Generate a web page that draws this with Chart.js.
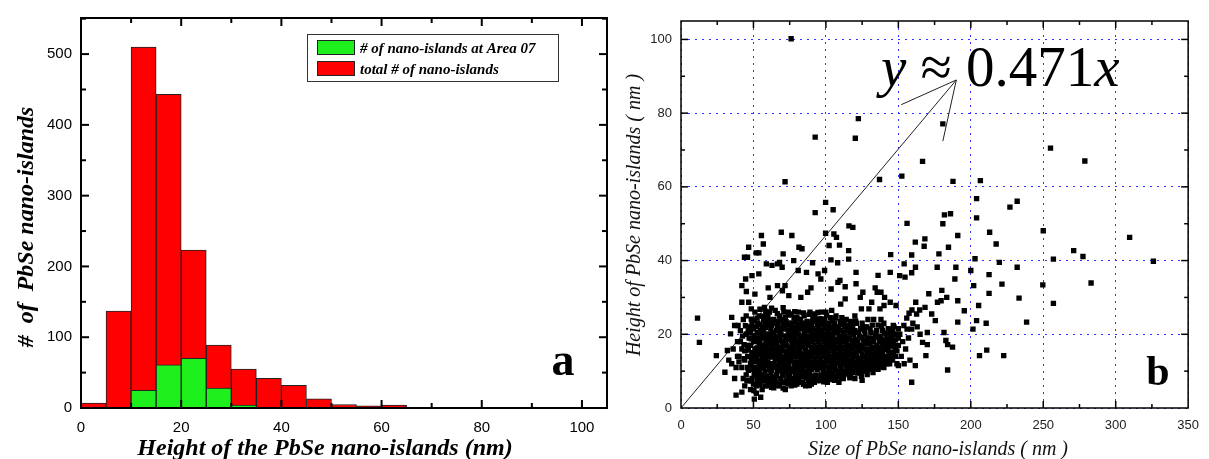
<!DOCTYPE html>
<html>
<head>
<meta charset="utf-8">
<script src="https://cdn.jsdelivr.net/npm/chart.js@4.4.1/dist/chart.umd.min.js"></script>
<style>
  html, body { margin: 0; padding: 0; background: #fff; }
  #wrap { position: relative; width: 1209px; height: 459px; overflow: hidden; }
  #histChart { position: absolute; left: 0; top: 0; }
  #scatterChart { position: absolute; left: 620px; top: 0; }
</style>
</head>
<body>
<div id="wrap">
  <canvas id="histChart" width="620" height="459"></canvas>
  <canvas id="scatterChart" width="589" height="459"></canvas>
</div>
<script>
// ---- panel a: histogram of island heights (bins of 5 nm) ----
const binCenters = [2.5, 7.5, 12.5, 17.5, 22.5, 27.5, 32.5, 37.5, 42.5, 47.5,
                    52.5, 57.5, 62.5, 67.5, 72.5, 77.5, 82.5, 87.5, 92.5, 97.5];
const totalCounts = [7, 137, 510, 443, 223, 89, 55, 42, 32, 13,
                     5, 3, 4, 1, 1, 1, 1, 1, 1, 1];
const area07Counts = [0, 1, 25, 61, 70, 28, 4, 1, 1, 0,
                      0, 0, 0, 0, 0, 0, 0, 0, 0, 0];
const histXTicks = [0, 20, 40, 60, 80, 100];
const histYTicks = [0, 100, 200, 300, 400, 500];

// ---- panel b: size vs height of each island [size nm, height nm] ----
const islands = [
  // sparse points above the main cloud
  [76,100.2],[122.4,78.5],[92.6,73.5],[120.3,73.2],[180.7,77.1],[71.8,61.4],[137,62],[152.4,62.9],
  [166.7,66.9],[187.7,61.5],[206.6,61.7],[255,70.5],[278.7,67],[99.8,55.8],[92.6,53],[105,53.8],
  [115.9,49.4],[118.6,49],[156,50.1],[180.7,50],[181.8,52.4],[186,52.7],[191,46.8],[204,51.6],
  [204,56.8],[227,54.5],[232,56.1],[213,47.7],[217.5,44.5],[250,48.1],[309.6,46.3],[326,39.8],
  [271,42.7],[277.4,41.1],[257,40.4],[232,38.2],[249.7,33.4],[233.3,29.8],[283,33.9],[257,28.4],
  [238.5,23.3],[222.7,14.2],[211,15.7],[206,14.2],[201.5,21.4],[210.6,23],[212.6,36.2],[219.7,39.5],
  [221.5,33.6],[212.6,31.1],[202.9,40.5],[202,33.2],[200,37.3],[205.4,27.8],[204,23.7],[184,10.3],
  [184,17.2],[181.5,20.5],[187.4,16.5],[182.8,18.3],[191,23.3],[195.5,26.4],[191,29.1],[189,35],
  [189.7,38.2],[184.6,43.6],[178,41.8],[176.8,38.2],[180,31.9],[183.4,30],[179.5,29.1],[177,28.7],
  [168.3,45.9],[167.8,43.9],[161.7,45],[159.2,41.5],[154,39.1],[154.6,35.5],[159.2,36.7],[161.8,38.2],
  [144.7,41.6],[144.4,36.8],[136,36],[150.9,35.9],[150,11.5],[159.2,7],[161.7,11.5],[169,14.2],
  [170,17.2],[166.7,17.8],[170,20.5],[175.5,23.7],[173,25.5],[171,31],[168.4,27.3],[162,28.7],
  [159.4,26.6],[157.4,25.7],[162.6,25.5],[164.7,26.6],[155.8,24.4],[153.8,22.4],[156,21.4],[159.2,21.4],
  [152,14],[155,16],[157,19],[153,18],[160,23],[163,22],[165,20],[151,20],[154,12],[158,13],
  // left tail
  [11.4,24.4],[12.7,17.8],[24.4,14.2],[30.3,9.7],[32,15.6],[35,24.6],[34.2,20.1],[37,22.4],
  [39.4,22.4],[38,3.5],[42,4.3],[50.6,2.4],[55,2.9],[50.3,4.7],[33,13],[36,16],[38,11],[39,18],
  [37,8],[35,12],[39,14],
  // upper fringe of the cloud
  [46.7,43.6],[45.9,40.9],[43.8,40.9],[55.5,46.8],[56.8,44.5],[53.7,42.1],[51.9,42.1],[69.2,47.7],
  [76.5,46.8],[44.6,35],[49,35.9],[53.7,36.4],[42,33.2],[45.1,31.6],[42,28.7],[46.7,28.7],
  [48.5,26.9],[51,30.9],[58.9,39.1],[62.8,38.7],[66.6,39.1],[68,39.5],[70.5,41.8],[69.8,38.2],
  [77.8,40],[81.4,43.6],[83.5,43.2],[80.9,37.3],[86.6,36.8],[90.8,39.4],[94.6,36.4],[96.5,35],
  [99.1,37.3],[99.8,47.4],[102.2,44.1],[103.5,40.2],[105.5,47.2],[107.3,46.3],[109.4,44.2],[108.1,39.4],
  [103.6,32.3],[108.3,34.1],[115.7,40.4],[115.7,42.7],[120.8,36.8],[120.8,33.7],[109.7,34.6],[113.3,32.9],
  [89.7,32.6],[87.4,31.4],[82.7,30],[74.4,30.5],[71.8,33.2],[70,31.8],[66.6,33.2],[61.4,30],
  [57.6,27.3],[60.2,32.6],[125.5,31.4],[123.7,30],[134,32.6],[135.4,31.4],[138,31.4],[140.5,30],
  [144.4,28.7],[148.4,27.8],[131.6,28.7],[129.7,26.9],[137.3,26.9],[140.1,27.8],[124.5,26.9],[113.3,29.6],
  [110.2,28.2],
  // main cloud
  [40,14],[41,18],[42,11],[41,21],[43,8],[42,16],[43,24],[40,12.5],
  [44,6],[45,9],[44,13],[46,17],[45,20],[47,22],[46,11],[44,15.5],[47,7.5],[45,25],[46,14],[47,19],
  [48,5],[49,8],[50,10.5],[48,12],[49,14.5],[51,16],[50,18],[48,20.5],[49,23],[51,26],[50,6.5],
  [51,12.5],[48,17],[50,21.5],[49,11],[51,9],[50,15],
  [52,4],[53,7],[54,9.5],[52,11],[55,13],[53,15],[54,17],[52,19],[55,21],[53,23],[54,25],[55,8],
  [52,14],[53,18],[54,12],[55,16],[52,22],[53,10],[55,19],[54,20.5],[52,6],
  [56,5],[57,7.5],[58,10],[59,12],[56,13.5],[57,15],[58,16.5],[59,18],[56,19.5],[57,21],[58,23],
  [59,25.5],[56,9],[57,11],[58,14],[59,20],[56,17],[57,24],[58,6],[59,8.5],[56,22],[57,13],[58,19],[59,15.5],
  [60,6],[61,8],[62,9.5],[63,11],[60,12.5],[61,14],[62,15.5],[63,17],[60,18.5],[61,20],[62,21.5],
  [63,23],[60,25],[61,10.5],[62,12],[63,14.5],[60,16],[61,17.5],[62,19],[63,20.5],[60,22.5],[61,26],
  [62,7],[63,8.5],[61,23.5],[62,16.5],
  [64,5.5],[65,7],[66,9],[67,10.5],[64,12],[65,13.5],[66,15],[67,16.5],[64,18],[65,19.5],[66,21],
  [67,22.5],[64,24],[65,26.5],[66,11.5],[67,13],[64,14.5],[65,16],[66,17.5],[67,19],[64,20.5],
  [65,8.5],[66,23.5],[67,6.5],
  [68,6],[69,8],[70,9.5],[71,11],[68,12.5],[69,14],[70,15.5],[71,17],[68,18.5],[69,20],[70,21.5],
  [71,23],[68,25],[69,10.5],[70,12],[71,13.5],[68,15],[69,16.5],[70,18],[71,19.5],[68,21],[69,24],
  [70,7],[71,26],
  [72,5],[73,7.5],[74,9],[75,10.5],[72,12],[73,13.5],[74,15],[75,16.5],[72,18],[73,19.5],[74,21],
  [75,22.5],[72,24.5],[73,11],[74,12.5],[75,14],[72,15.5],[73,17],[74,18.5],[75,20],[72,21.5],
  [73,23],[74,6.5],[75,8.5],[74,26],
  [76,6],[77,8],[78,10],[79,11.5],[76,13],[77,14.5],[78,16],[79,17.5],[76,19],[77,20.5],[78,22],
  [79,23.5],[76,25.5],[77,10.5],[78,12.5],[79,14],[76,15.5],[77,17],[78,18.5],[79,20],[76,21.5],
  [77,7],[78,24.5],[79,9],
  [80,6.5],[81,8],[82,9.5],[83,11],[80,12.5],[81,14],[82,15.5],[83,17],[80,18.5],[81,20],[82,21.5],
  [83,23],[80,24.5],[81,10.5],[82,12],[83,13.5],[80,15],[81,16.5],[82,18],[83,19.5],[80,21],[81,26],
  [82,7],[83,8.5],
  [84,7],[85,8.5],[86,10],[87,11.5],[84,13],[85,14.5],[86,16],[87,17.5],[84,19],[85,20.5],[86,22],
  [87,23.5],[84,11],[85,12],[86,13.5],[87,15],[84,16.5],[85,18],[86,19.5],[87,21],[84,22.5],[85,25],
  [86,6],[87,9],
  [88,7.5],[89,9],[90,10.5],[91,12],[88,13.5],[89,15],[90,16.5],[91,18],[88,19.5],[89,21],[90,22.5],
  [91,24],[88,11],[89,12.5],[90,14],[91,15.5],[88,17],[89,18.5],[90,20],[91,21.5],[88,23],[89,26],
  [90,6.5],[91,8.5],
  [92,7],[93,9],[94,10.5],[95,12],[92,13.5],[93,15],[94,16.5],[95,18],[92,19.5],[93,21],[94,22.5],
  [95,24],[92,11],[93,12.5],[94,14],[95,15.5],[92,17],[93,18.5],[94,20],[95,21.5],[92,25.5],[93,8],[94,23.5],
  [96,7.5],[97,9],[98,10.5],[99,12],[96,13.5],[97,15],[98,16.5],[99,18],[96,19.5],[97,21],[98,22.5],
  [99,24],[96,11],[97,12.5],[98,14],[99,15.5],[96,17],[97,18.5],[98,20],[99,21.5],[96,23],[97,26],
  [98,8],[99,9.5],
  [100,8],[101,9.5],[102,11],[103,12.5],[100,14],[101,15.5],[102,17],[103,18.5],[100,20],[101,21.5],
  [102,23],[103,24.5],[100,11.5],[101,13],[102,14.5],[103,16],[100,17.5],[101,19],[102,20.5],[103,22],
  [100,26],[101,7],[102,8.5],
  [104,8],[105,9.5],[106,11],[107,12.5],[104,14],[105,15.5],[106,17],[107,18.5],[104,20],[105,21.5],
  [106,23],[107,25],[104,11.5],[105,13],[106,14.5],[107,16],[104,17.5],[105,19],[106,20.5],[107,22],
  [104,26.5],[106,7.5],
  [108,8.5],[109,10],[110,11.5],[111,13],[108,14.5],[109,16],[110,17.5],[111,19],[108,20.5],[109,22],
  [110,23.5],[111,9],[108,12],[109,13.5],[110,15],[111,16.5],[108,18],[109,19.5],[110,21],[111,24.5],[109,7],
  [112,8],[113,10],[114,11.5],[115,13],[112,14.5],[113,16],[114,17.5],[115,19],[112,20.5],[113,22],
  [114,24],[115,9.5],[112,12],[113,13.5],[114,15],[115,16.5],[112,18],[113,19.5],[114,21],[115,22.5],
  [116,9],[117,11],[118,12.5],[119,14],[116,15.5],[117,17],[118,18.5],[119,20],[116,21.5],[117,23.5],
  [118,10],[119,11.5],[116,13],[117,14.5],[118,16],[119,17.5],[116,19],[117,8.5],[118,21],
  [120,8],[121,10.5],[122,12],[123,13.5],[120,15],[121,16.5],[122,18],[123,19.5],[120,21],[121,23],
  [122,9.5],[123,11],[120,12.5],[121,14],[122,15.5],[123,17],[120,25],
  [124,9.5],[125,11],[126,12.5],[127,14],[124,15.5],[125,17],[126,18.5],[127,20],[124,21.5],[125,23],
  [126,10],[127,11.5],[124,13],[125,14.5],[126,16],[127,22],[125,7.5],
  [128,10],[129,11.5],[130,13],[131,14.5],[128,16],[129,17.5],[130,19],[131,20.5],[128,22],[129,10.5],
  [130,12],[131,16],[128,13.5],[130,15.5],[131,12],[129,24],
  [132,10.5],[133,12],[134,13.5],[135,15],[132,16.5],[133,18],[134,19.5],[135,21],[132,22.5],[133,11],
  [134,14],[135,17],[132,13],[134,16],[135,12],[133,24],
  [136,10.5],[137,12],[138,13.5],[139,15],[136,16.5],[137,18],[138,19.5],[139,21],[136,22.5],[137,13],
  [138,16],[139,17.5],[136,14],[139,11.5],[138,24],
  [140,11],[141,12.5],[142,14],[143,15.5],[140,17],[141,18.5],[142,20],[143,21.5],[140,14],[141,16],
  [142,17.5],[143,19],[140,23],[142,12],
  [144,12],[145,13.5],[146,15],[147,16.5],[144,18],[145,19.5],[146,21],[147,22],[144,15],[145,17],
  [146,18.5],[147,20],[146,13],
  [148,14],[149,15.5],[150,17],[148,18.5],[149,20],[150,21.5],[148,16.5],[150,19],[149,12],
  // main cloud, in-between points
  [42.5,19.5],[43.5,13.4],[44.5,22.3],[45.5,7.4],[43.5,17.2],
  [46.5,10.2],[46.5,15.7],[46.5,21.3],[48.5,7.3],[48.5,13.2],[48.5,18.8],[48.5,24.1],
  [50.5,9.1],[50.5,13.9],[50.5,19.6],[50.5,23.8],[52.5,8.2],[52.5,12.7],[52.5,16.3],[52.5,20.4],[52.5,24.4],
  [54.5,6.3],[54.5,10.8],[54.5,14.6],[54.5,18.2],[54.5,22.6],[54.5,26.8],
  [56.5,7.4],[56.5,11.8],[56.5,15.9],[56.5,20.7],[56.5,24.9],
  [58.5,8.7],[58.5,12.9],[58.5,17.4],[58.5,21.8],[58.5,26.2],
  [60.5,7.2],[60.5,11.6],[60.5,15.2],[60.5,19.7],[60.5,23.9],
  [62.5,5.6],[62.5,10.2],[62.5,13.8],[62.5,18.1],[62.5,22.4],[62.5,27.1],
  [64.5,8.3],[64.5,11.1],[64.5,15.6],[64.5,19.3],[64.5,23.1],
  [66.5,6.1],[66.5,10.1],[66.5,13.9],[66.5,18.2],[66.5,22.1],[66.5,25.6],
  [68.5,7.9],[68.5,11.8],[68.5,16.2],[68.5,19.9],[68.5,23.7],
  [70.5,5.4],[70.5,8.9],[70.5,13.2],[70.5,17.6],[70.5,22.8],[70.5,27.2],
  [72.5,6.8],[72.5,10.1],[72.5,14.3],[72.5,19.1],[72.5,23.4],
  [74.5,8.1],[74.5,11.8],[74.5,16.4],[74.5,20.1],[74.5,25.2],
  [76.5,7.1],[76.5,9.9],[76.5,14.1],[76.5,18.2],[76.5,23.1],
  [78.5,6.2],[78.5,11.2],[78.5,15.3],[78.5,19.3],[78.5,21.6],[78.5,26.1],
  [80.5,7.6],[80.5,11.4],[80.5,13.9],[80.5,17.8],[80.5,22.6],
  [82.5,8.6],[82.5,10.9],[82.5,14.8],[82.5,19.1],[82.5,24.1],
  [84.5,6.4],[84.5,9.9],[84.5,14.1],[84.5,17.9],[84.5,21.6],[84.5,25.8],
  [86.5,8.1],[86.5,12.8],[86.5,15.2],[86.5,18.9],[86.5,23.1],
  [88.5,6.1],[88.5,10.1],[88.5,14.3],[88.5,18.1],[88.5,22.2],[88.5,25.4],
  [90.5,7.6],[90.5,11.3],[90.5,15.3],[90.5,19.2],[90.5,23.4],
  [92.5,8.6],[92.5,12.2],[92.5,16.1],[92.5,20.6],[92.5,24.6],
  [94.5,7.4],[94.5,11.6],[94.5,15.2],[94.5,18.9],[94.5,21.1],[94.5,25.9],
  [96.5,8.9],[96.5,12.4],[96.5,16.2],[96.5,20.3],[96.5,24.2],
  [98.5,7.1],[98.5,11.1],[98.5,14.9],[98.5,18.9],[98.5,23.1],
  [100.5,9.2],[100.5,12.7],[100.5,16.2],[100.5,19.2],[100.5,22.4],[100.5,25.1],
  [102.5,7.7],[102.5,10.2],[102.5,13.6],[102.5,18.1],[102.5,21.8],
  [104.5,9.3],[104.5,12.3],[104.5,16.2],[104.5,19.4],[104.5,23.6],
  [106.5,8.2],[106.5,10.3],[106.5,13.9],[106.5,18.3],[106.5,21.9],[106.5,24.4],
  [108.5,9.2],[108.5,13.1],[108.5,16.6],[108.5,21.4],
  [110.5,8.1],[110.5,10.6],[110.5,14.3],[110.5,18.4],[110.5,22.7],
  [112.5,9.3],[112.5,12.9],[112.5,16.1],[112.5,19.6],[112.5,23.2],
  [114.5,10.6],[114.5,14.1],[114.5,18.1],[114.5,21.7],
  [116.5,8.2],[116.5,12.1],[116.5,16.6],[116.5,20.4],
  [118.5,9.6],[118.5,13.6],[118.5,17.4],[118.5,22.3],
  [120.5,11.2],[120.5,14.2],[120.5,18.6],[120.5,23.6],
  [122.5,10.6],[122.5,13.1],[122.5,16.8],[122.5,20.6],
  [124.5,8.6],[124.5,12.1],[124.5,16.6],[124.5,19.1],
  [126.5,11.1],[126.5,13.9],[126.5,17.6],[126.5,21.1],
  [128.5,9.1],[128.5,12.6],[128.5,15.1],[128.5,18.9],
  [130.5,11.3],[130.5,14.1],[130.5,17.6],[130.5,21.5],
  [132.5,9.6],[132.5,14.6],[132.5,18.9],[134.5,11.2],[134.5,15.8],[134.5,20.2],
  [136.5,12.3],[136.5,15.3],[136.5,19.2],[138.5,11.1],[138.5,14.6],[138.5,18.4],[138.5,22.2],
  [140.5,12.6],[140.5,15.9],[140.5,20.3],[142.5,13.2],[142.5,16.6],[142.5,19.1],
  [144.5,13.6],[144.5,16.9],[144.5,20.6],[146.5,14.6],[146.5,17.2],[146.5,22.4]
];
// fitted line y = 0.471x, drawn up to the arrow tip, and the two arrow strokes
const fitLine = [[0, 0], [190, 89]];
const arrowLeft = [[152, 82.3], [190, 89]];
const arrowDown = [[180.7, 72.4], [190, 89]];
const scatterXTicks = [0, 50, 100, 150, 200, 250, 300, 350];
const scatterYTicks = [0, 20, 40, 60, 80, 100];

const toXY = arr => arr.map(p => ({ x: p[0], y: p[1] }));

function tickLine(ctx, x1, y1, x2, y2) {
    ctx.beginPath();
    ctx.moveTo(x1, y1);
    ctx.lineTo(x2, y2);
    ctx.stroke();
}

// frame, inward ticks, legend and labels for panel a
const histDecor = {
    id: 'histDecor',
    afterDraw(chart) {
        const { ctx, chartArea: a, scales: { x, y } } = chart;
        ctx.save();
        ctx.strokeStyle = '#000';
        ctx.lineWidth = 2;
        for (let v = 10; v < 105; v += 10) {
            const px = x.getPixelForValue(v);
            const len = v % 20 === 0 ? 8 : 5;
            tickLine(ctx, px, a.bottom, px, a.bottom - len);
            tickLine(ctx, px, a.top, px, a.top + len);
        }
        for (let v = 50; v < 551; v += 50) {
            const py = y.getPixelForValue(v);
            const len = v % 100 === 0 ? 8 : 5;
            tickLine(ctx, a.left, py, a.left + len, py);
            tickLine(ctx, a.right, py, a.right - len, py);
        }
        ctx.strokeRect(a.left, a.top, a.width, a.height);

        // legend box
        ctx.lineWidth = 1;
        ctx.strokeStyle = '#333';
        ctx.fillStyle = '#fff';
        ctx.fillRect(307.5, 34.5, 251, 47);
        ctx.strokeRect(307.5, 34.5, 251, 47);
        const items = chart.data.datasets;
        items.forEach((ds, i) => {
            const top = 40 + i * 21;
            ctx.fillStyle = ds.backgroundColor;
            ctx.fillRect(317, top, 38, 15);
            ctx.strokeStyle = '#222';
            ctx.strokeRect(317.5, top + 0.5, 37, 14);
            ctx.fillStyle = '#000';
            ctx.font = 'italic bold 15px "Liberation Serif"';
            ctx.textAlign = 'left';
            ctx.textBaseline = 'alphabetic';
            ctx.fillText(ds.label, 360, top + 13);
        });

        // panel letter
        ctx.font = 'bold 46px "Liberation Serif"';
        ctx.textAlign = 'center';
        ctx.fillText('a', 563, 375);

        // axis titles
        ctx.font = 'italic bold 24px "Liberation Serif"';
        ctx.fillText('Height of the PbSe nano-islands (nm)', 325, 455);
        ctx.save();
        ctx.translate(33, 227);
        ctx.rotate(-Math.PI / 2);
        ctx.fillText('#  of  PbSe nano-islands', 0, 0);
        ctx.restore();
        ctx.restore();
    }
};

// frame, inward ticks and labels for panel b
const scatterDecor = {
    id: 'scatterDecor',
    afterDraw(chart) {
        const { ctx, chartArea: a, scales: { x, y } } = chart;
        ctx.save();
        ctx.strokeStyle = '#000';
        ctx.lineWidth = 1.5;
        for (let v = 25; v < 350; v += 25) {
            const px = x.getPixelForValue(v);
            const len = v % 50 === 0 ? 7 : 4;
            tickLine(ctx, px, a.bottom, px, a.bottom - len);
            tickLine(ctx, px, a.top, px, a.top + len);
        }
        for (let v = 10; v < 105; v += 10) {
            const py = y.getPixelForValue(v);
            const len = v % 20 === 0 ? 7 : 4;
            tickLine(ctx, a.left, py, a.left + len, py);
            tickLine(ctx, a.right, py, a.right - len, py);
        }
        ctx.strokeRect(a.left, a.top, a.width, a.height);

        // equation next to the fitted line
        ctx.fillStyle = '#000';
        ctx.textBaseline = 'alphabetic';
        ctx.textAlign = 'left';
        let ex = x.getPixelForValue(138);
        const ey = y.getPixelForValue(87.5);
        ctx.font = 'italic 57px "Liberation Serif"';
        ctx.fillText('y', ex, ey);
        ex += ctx.measureText('y').width;
        ctx.font = '57px "Liberation Serif"';
        ctx.fillText(' \u2248 0.471', ex, ey);
        ex += ctx.measureText(' \u2248 0.471').width;
        ctx.font = 'italic 57px "Liberation Serif"';
        ctx.fillText('x', ex, ey);

        // panel letter
        ctx.font = 'bold 42px "Liberation Serif"';
        ctx.textAlign = 'center';
        ctx.fillText('b', 1158 - 620, 385);

        // axis titles
        ctx.font = 'italic 20px "Liberation Serif"';
        ctx.fillStyle = '#111';
        ctx.fillText('Size of PbSe nano-islands ( nm )', 938 - 620, 455);
        ctx.save();
        ctx.translate(640 - 620, 215);
        ctx.rotate(-Math.PI / 2);
        ctx.fillText('Height of PbSe nano-islands ( nm )', 0, 0);
        ctx.restore();
        ctx.restore();
    }
};

new Chart(document.getElementById('histChart'), {
    type: 'bar',
    data: {
        datasets: [{
            label: '# of nano-islands at Area 07',
            data: binCenters.map((c, i) => ({ x: c, y: area07Counts[i] })),
            backgroundColor: '#1ef01e',
            borderColor: '#222',
            borderWidth: 1
        }, {
            label: 'total # of nano-islands',
            data: binCenters.map((c, i) => ({ x: c, y: totalCounts[i] })),
            backgroundColor: '#ff0000',
            borderColor: '#222',
            borderWidth: 1
        }]
    },
    options: {
        responsive: false,
        animation: false,
        events: [],
        layout: { padding: { left: 0, right: 13, top: 16, bottom: 0 } },
        datasets: { bar: { grouped: false, barPercentage: 1, categoryPercentage: 1 } },
        plugins: { legend: { display: false }, tooltip: { enabled: false } },
        scales: {
            x: {
                type: 'linear',
                min: 0,
                max: 105,
                offset: false,
                grid: { display: false, drawTicks: false, offset: false },
                border: { display: false },
                afterBuildTicks: s => { s.ticks = histXTicks.map(v => ({ value: v })); },
                afterFit: s => { s.height = 51; },
                ticks: { padding: 11, maxRotation: 0, color: '#000', font: { family: 'Liberation Sans', size: 15 } }
            },
            y: {
                min: 0,
                max: 551,
                grid: { display: false, drawTicks: false },
                border: { display: false },
                afterBuildTicks: s => { s.ticks = histYTicks.map(v => ({ value: v })); },
                afterFit: s => { s.width = 81; },
                ticks: { padding: 9, color: '#000', font: { family: 'Liberation Sans', size: 15 } }
            }
        }
    },
    plugins: [histDecor]
});

new Chart(document.getElementById('scatterChart'), {
    type: 'scatter',
    data: {
        datasets: [{
            data: toXY(islands),
            pointStyle: 'rect',
            pointRadius: 3.8,
            backgroundColor: '#000',
            borderWidth: 0
        }, {
            type: 'line',
            data: toXY(fitLine),
            borderColor: '#222',
            borderWidth: 1,
            pointRadius: 0
        }, {
            type: 'line',
            data: toXY(arrowLeft),
            borderColor: '#222',
            borderWidth: 1,
            pointRadius: 0
        }, {
            type: 'line',
            data: toXY(arrowDown),
            borderColor: '#222',
            borderWidth: 1,
            pointRadius: 0
        }]
    },
    options: {
        responsive: false,
        animation: false,
        events: [],
        layout: { padding: { left: 0, right: 14, top: 21, bottom: 0 } },
        plugins: { legend: { display: false }, tooltip: { enabled: false } },
        scales: {
            x: {
                type: 'linear',
                min: 0,
                max: 350,
                grid: { color: '#3030ff', lineWidth: 1, drawTicks: false },
                border: { display: false, dash: [2, 5] },
                afterBuildTicks: s => { s.ticks = scatterXTicks.map(v => ({ value: v })); },
                afterFit: s => { s.height = 51; },
                ticks: { padding: 10, maxRotation: 0, color: '#222', font: { family: 'Liberation Sans', size: 13 } }
            },
            y: {
                min: 0,
                max: 105,
                grid: { color: '#3030ff', lineWidth: 1, drawTicks: false },
                border: { display: false, dash: [2, 5] },
                afterBuildTicks: s => { s.ticks = scatterYTicks.map(v => ({ value: v })); },
                afterFit: s => { s.width = 61; },
                ticks: { padding: 9, color: '#222', font: { family: 'Liberation Sans', size: 13 } }
            }
        }
    },
    plugins: [scatterDecor]
});
</script>
</body>
</html>
